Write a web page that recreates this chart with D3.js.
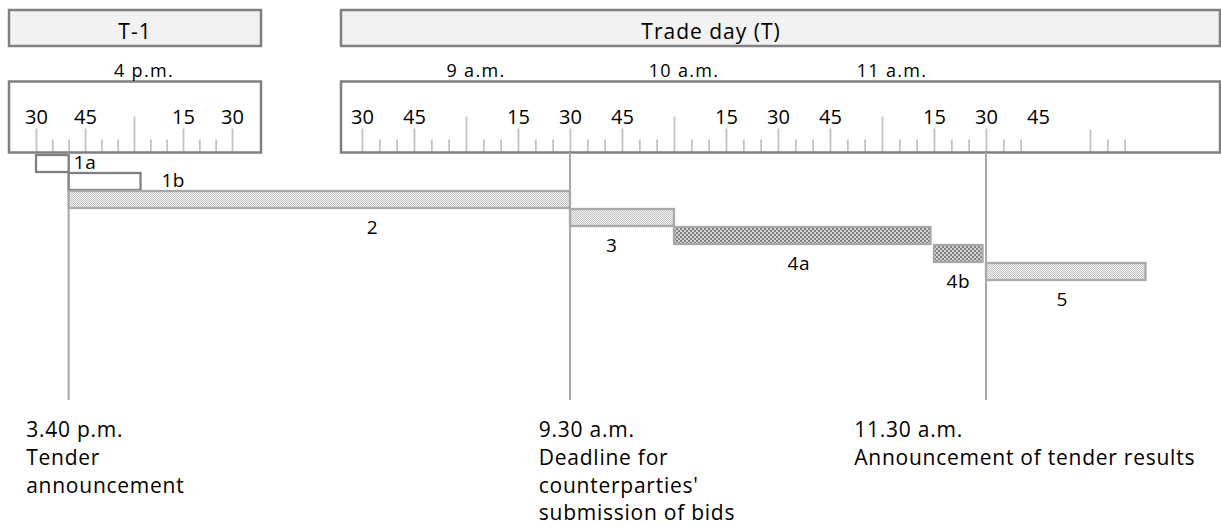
<!DOCTYPE html>
<html><head><meta charset="utf-8">
<script src="https://cdn.jsdelivr.net/npm/d3@7"></script>
<style>
body{margin:0;background:#fff}
svg{display:block}
text{font-family:"Open Sans",sans-serif;fill:#000}
</style>
</head><body>
<svg id="chart" width="1221" height="527"></svg>
<script>
// ---------------- data ----------------
const dayTitles = ["T-1", "Trade day (T)"];

const leftLabelTicks  = ["15:30", "15:45", "16:15", "16:30"];
const leftHourTicks   = ["16:00"];
const leftHourLabels  = ["4 p.m."];
const leftMinorTicks  = ["15:35", "15:40", "15:50", "15:55", "16:05", "16:10", "16:20", "16:25"];

const rightLabelTicks = ["08:30", "08:45", "09:15", "09:30", "09:45", "10:15", "10:30", "10:45", "11:15", "11:30"];
const rightLabelOnly  = ["11:45"];
const rightPlainTicks = ["12:00"];
const rightHourTicks  = ["09:00", "10:00", "11:00"];
const rightHourLabels = ["9 a.m.", "10 a.m.", "11 a.m."];
const rightMinorTicks = ["08:35", "08:40", "08:50", "08:55", "09:05", "09:10", "09:20", "09:25",
                         "09:35", "09:40", "09:50", "09:55", "10:05", "10:10", "10:20", "10:25",
                         "10:35", "10:40", "10:50", "10:55", "11:05", "11:10", "11:20", "11:25",
                         "11:35", "11:40", "12:05", "12:10"];

const barIds      = ["1a", "1b", "2", "3", "4a", "4b", "5"];
const barStartDay = ["T-1", "T-1", "T-1", "T", "T", "T", "T"];
const barStart    = ["15:30", "15:40", "15:40", "09:30", "10:00", "11:15", "11:30"];
const barEndDay   = ["T-1", "T-1", "T", "T", "T", "T", "T"];
const barEnd      = ["15:40", "16:02", "09:30", "10:00", "11:14", "11:29", "12:16"];
const barKind     = ["A", "A", "B", "B", "C", "C", "B"];
const barLabelDay = ["T-1", "T-1", "T", "T", "T", "T", "T"];
const barLabelAt  = ["15:45", "16:12", "08:33", "09:42", "10:36", "11:22", "11:52"];

const eventDay    = ["T-1", "T", "T"];
const eventTime   = ["15:40", "09:30", "11:30"];
const eventTextDay = ["T-1", "T", "T"];
const eventTextAt = ["15:27", "09:21", "10:52"];
const eventText   = [["3.40 p.m.", "Tender", "announcement"],
                     ["9.30 a.m.", "Deadline for", "counterparties'", "submission of bids"],
                     ["11.30 a.m.", "Announcement of tender results"]];

// ---------------- layout ----------------
const L = {
  headerY: 10, headerH: 36,
  rulerY: 81.5, rulerH: 71,
  left:  {x: 9,   w: 252},
  right: {x: 341, w: 879},
  labelTick: 24, hourTick: 36, minorTick: 13,
  rowTop: 155, rowBottom: 263, barH: 17,
  lineBottom: 400,
  textTop: 437, lineGap: 27.8
};

const dates = {"T-1": "2024-01-01", "T": "2024-01-02"};
const parse = d3.timeParse("%Y-%m-%d %H:%M");
const t = (day, hm) => parse(dates[day] + " " + hm);

const xLeft  = d3.scaleTime().domain([t("T-1", "15:30"), t("T-1", "16:30")]).range([36, 232]);
const xRight = d3.scaleTime().domain([t("T", "09:30"), t("T", "11:30")]).range([570, 986]);
const xOf = (day, hm) => day === "T-1" ? xLeft(t(day, hm)) : xRight(t(day, hm));
const yRow = d3.scaleLinear().domain([0, barIds.length - 1]).range([L.rowTop, L.rowBottom]);

const svg = d3.select("#chart");

// patterns
const defs = svg.append("defs");
const pl = defs.append("pattern").attr("id", "light").attr("patternUnits", "userSpaceOnUse")
  .attr("width", 2).attr("height", 2);
pl.append("rect").attr("width", 2).attr("height", 2).attr("fill", "#f3f3f3");
pl.append("rect").attr("width", 1).attr("height", 1).attr("fill", "#c4c4c4");
pl.append("rect").attr("x", 1).attr("y", 1).attr("width", 1).attr("height", 1).attr("fill", "#c4c4c4");
const pd = defs.append("pattern").attr("id", "dark").attr("patternUnits", "userSpaceOnUse")
  .attr("width", 4).attr("height", 4);
pd.append("rect").attr("width", 4).attr("height", 4).attr("fill", "#d4d4d4");
pd.append("rect").attr("width", 2).attr("height", 2).attr("fill", "#808080");
pd.append("rect").attr("x", 2).attr("y", 2).attr("width", 2).attr("height", 2).attr("fill", "#808080");

const kindFill = {A: "#ffffff", B: "url(#light)", C: "url(#dark)"};
const kindStroke = {A: "#808080", B: "#a9a9a9", C: "#a9a9a9"};

// header boxes
const panels = [L.left, L.right];
const headerTextX = [135, 711];
panels.forEach((p, i) => {
  svg.append("rect").attr("x", p.x).attr("y", L.headerY).attr("width", p.w).attr("height", L.headerH)
    .attr("fill", "#f2f2f2").attr("stroke", "#808080").attr("stroke-width", 2.5);
  svg.append("text").attr("x", headerTextX[i]).attr("y", L.headerY + 29)
    .attr("text-anchor", "middle").attr("font-size", 21).attr("letter-spacing", 1)
    .text(dayTitles[i]);
  svg.append("rect").attr("x", p.x).attr("y", L.rulerY).attr("width", p.w).attr("height", L.rulerH)
    .attr("fill", "#fff");
});

// ruler ticks
function drawAxis(scale, day, values, size, labelled, keepLines) {
  const ax = d3.axisTop(scale)
    .tickValues(values.map(v => t(day, v)))
    .tickSize(size).tickPadding(5)
    .tickFormat(labelled ? d3.timeFormat("%M") : () => "");
  const g = svg.append("g").attr("transform", `translate(0,${L.rulerY + L.rulerH})`).call(ax);
  g.select(".domain").remove();
  g.attr("font-family", null).attr("font-size", null);
  g.selectAll("line").attr("stroke", "#c2c2c2").attr("stroke-width", 1.8);
  g.selectAll("text").attr("font-size", 20).attr("fill", "#000");
  if (!keepLines) g.selectAll("line").remove();
}
drawAxis(xLeft, "T-1", leftMinorTicks, L.minorTick, false, true);
drawAxis(xLeft, "T-1", leftHourTicks, L.hourTick, false, true);
drawAxis(xLeft, "T-1", leftLabelTicks, L.labelTick, true, true);
drawAxis(xRight, "T", rightMinorTicks, L.minorTick, false, true);
drawAxis(xRight, "T", rightHourTicks, L.hourTick, false, true);
drawAxis(xRight, "T", rightLabelTicks, L.labelTick, true, true);
drawAxis(xRight, "T", rightLabelOnly, L.labelTick, true, false);
drawAxis(xRight, "T", rightPlainTicks, L.labelTick - 1, false, true);

// ruler outlines
panels.forEach(p => {
  svg.append("rect").attr("x", p.x).attr("y", L.rulerY).attr("width", p.w).attr("height", L.rulerH)
    .attr("fill", "none").attr("stroke", "#808080").attr("stroke-width", 2.5);
});

// hour labels above rulers
const hourLabelData = leftHourTicks.map((h, i) => ({day: "T-1", h, text: leftHourLabels[i]}))
  .concat(rightHourTicks.map((h, i) => ({day: "T", h, text: rightHourLabels[i]})));
svg.selectAll(".hour").data(hourLabelData).join("text")
  .attr("x", d => xOf(d.day, d.h) + 10).attr("y", 77)
  .attr("text-anchor", "middle").attr("font-size", 18).attr("letter-spacing", 1.3)
  .text(d => d.text);

// event lines
eventTime.forEach((tm, i) => {
  svg.append("line")
    .attr("x1", xOf(eventDay[i], tm)).attr("x2", xOf(eventDay[i], tm))
    .attr("y1", L.rulerY + L.rulerH).attr("y2", L.lineBottom)
    .attr("stroke", "#a9a9a9").attr("stroke-width", 2);
});

// bars
const bars = barIds.map((id, i) => ({
  id, i,
  x1: xOf(barStartDay[i], barStart[i]),
  x2: xOf(barEndDay[i], barEnd[i]),
  lx: xOf(barLabelDay[i], barLabelAt[i]),
  kind: barKind[i]
}));
svg.selectAll(".bar").data(bars).join("rect")
  .attr("x", d => d.x1).attr("y", d => yRow(d.i))
  .attr("width", d => d.x2 - d.x1).attr("height", L.barH)
  .attr("fill", d => kindFill[d.kind]).attr("stroke", d => kindStroke[d.kind]).attr("stroke-width", 2.3);
svg.selectAll(".blabel").data(bars).join("text")
  .attr("x", d => d.lx)
  .attr("y", d => (d.lx > d.x2 || d.lx < d.x1) ? yRow(d.i) + L.barH - 3 : yRow(d.i) + L.barH + 26)
  .attr("text-anchor", "middle").attr("font-size", 19).attr("letter-spacing", 0.5)
  .text(d => d.id);

// event texts
eventText.forEach((lines, i) => {
  const tx = svg.append("text").attr("font-size", 21).attr("letter-spacing", 0.75);
  lines.forEach((ln, j) => {
    tx.append("tspan").attr("x", xOf(eventTextDay[i], eventTextAt[i]))
      .attr("y", L.textTop + j * L.lineGap).text(ln);
  });
});
</script>
</body></html>
